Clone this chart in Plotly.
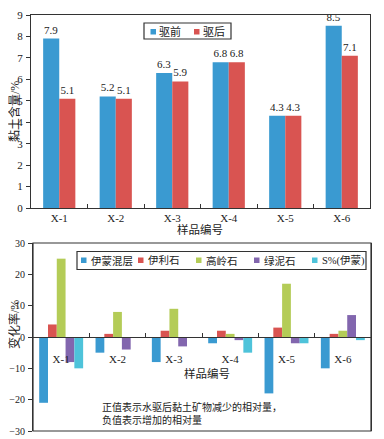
import plotly.graph_objects as go

# ---------------- data ----------------
samples = ["X-1", "X-2", "X-3", "X-4", "X-5", "X-6"]
before_name = "驱前"
after_name = "驱后"
clay_before = [7.9, 5.2, 6.3, 6.8, 4.3, 8.5]
clay_after = [5.1, 5.1, 5.9, 6.8, 4.3, 7.1]

mineral_names = ["伊蒙混层", "伊利石", "高岭石", "绿泥石", "S%(伊蒙)"]
illite_smectite = [-21, -5, -8, -2, -18, -10]
illite = [4, 1, 2, 2, 3, 1]
kaolinite = [25, 8, 9, 1, 17, 2]
chlorite = [-8, -4, -3, -1, -2, 7]
s_percent = [-10, 0, 0, -5, -2, -1]

top_ytitle = "黏土含量/%"
bottom_ytitle = "变化率/%"
xtitle = "样品编号"
note_lines = ["正值表示水驱后黏土矿物减少的相对量，", "负值表示增加的相对量"]

# ---------------- style ----------------
# the page body has an 8px default margin: the figure is sized/shifted to fill the window
OFF = 8
W, H = 384 - OFF, 439 - OFF
FONT = "Liberation Serif, Times New Roman, Noto Sans CJK SC, serif"
AX = "#333333"
TXT = "#222222"
BLUE = "#3a9ad1"
RED = "#d95451"
GREEN = "#b4cc57"
PURPLE = "#8266ae"
CYAN = "#4ec3da"
mineral_colors = [BLUE, RED, GREEN, PURPLE, CYAN]


def px(x):
    return (x - OFF) / W


def py(y):
    return 1 - (y - OFF) / H


fig = go.Figure()

# top chart bars
top_group = 0.57
for i, (name, vals, col) in enumerate([(before_name, clay_before, BLUE),
                                        (after_name, clay_after, RED)]):
    fig.add_trace(go.Bar(
        x=samples, y=vals, name=name, marker=dict(color=col, line=dict(width=0)),
        width=top_group / 2, offset=-top_group / 2 + i * top_group / 2,
        text=[f"{v:.1f}" for v in vals], textposition="outside",
        textfont=dict(family=FONT, size=11, color=TXT), cliponaxis=False,
        xaxis="x", yaxis="y", showlegend=False, hoverinfo="skip"))

# bottom chart bars
bot_group = 0.78
n_min = len(mineral_names)
for i, (name, vals, col) in enumerate(zip(mineral_names,
                                          [illite_smectite, illite, kaolinite, chlorite, s_percent],
                                          mineral_colors)):
    fig.add_trace(go.Bar(
        x=samples, y=vals, name=name, marker=dict(color=col, line=dict(width=0)),
        width=bot_group / n_min, offset=-bot_group / 2 + i * bot_group / n_min,
        xaxis="x2", yaxis="y2", showlegend=False, hoverinfo="skip"))

top_dom_x = [px(31), px(370)]
top_dom_y = [py(208), py(15)]
bot_dom_x = [px(33), px(371)]
bot_dom_y = [py(431), py(243)]

tickfont = dict(family=FONT, size=11, color=TXT)

fig.update_layout(
    template="none",
    width=W, height=H, margin=dict(l=0, r=0, t=0, b=0, autoexpand=False),
    paper_bgcolor="white", plot_bgcolor="white",
    font=dict(family=FONT, color=TXT),
    barmode="group",
    xaxis=dict(domain=top_dom_x, anchor="y", showline=True, mirror=True, linecolor=AX,
               linewidth=1.2, ticks="inside", ticklen=4, tickcolor=AX, tickson="boundaries",
               tickfont=tickfont, showgrid=False, zeroline=False, automargin=False),
    yaxis=dict(domain=top_dom_y, anchor="x", range=[0, 9], dtick=1, showline=True, mirror=True,
               linecolor=AX, linewidth=1.2, ticks="outside", ticklen=4, tickcolor=AX,
               tickfont=tickfont, showgrid=False, zeroline=False, ticklabelstandoff=1,
               automargin=False),
    xaxis2=dict(domain=bot_dom_x, anchor="free",
                position=(bot_dom_y[0] + bot_dom_y[1]) / 2,
                showline=True, linecolor=AX, linewidth=1.2, ticks="inside", ticklen=4,
                tickcolor=AX, tickson="boundaries", tickfont=tickfont, showgrid=False,
                zeroline=False, ticklabelstandoff=12, automargin=False),
    yaxis2=dict(domain=bot_dom_y, anchor="x2", range=[-30, 30], dtick=10, showline=True,
                mirror=True, linecolor=AX, linewidth=1.2, ticks="outside", ticklen=4,
                tickcolor=AX, tickfont=dict(family=FONT, size=10, color=TXT), showgrid=False,
                zeroline=False, ticklabelstandoff=1, automargin=False),
)

shapes = []
annots = []

# bottom frame
shapes.append(dict(type="rect", xref="x2 domain", yref="y2 domain", x0=0, x1=1, y0=0, y1=1,
                   line=dict(color=AX, width=1.2), layer="above"))

# top legend
shapes.append(dict(type="rect", xref="paper", yref="paper", x0=px(144), x1=px(231),
                   y0=py(39), y1=py(23), line=dict(color=AX, width=1.2), fillcolor="white"))
for (sx, tx, name, col) in [(150.5, 157, before_name, BLUE), (194, 200.5, after_name, RED)]:
    shapes.append(dict(type="rect", xref="paper", yref="paper", x0=px(sx), x1=px(sx + 5.5),
                       y0=py(34.5), y1=py(29), line=dict(width=0), fillcolor=col))
    annots.append(dict(xref="paper", yref="paper", x=px(tx), y=py(31.5), text=name,
                       showarrow=False, xanchor="left", yanchor="middle",
                       font=dict(family=FONT, size=11, color=TXT)))

# bottom legend
shapes.append(dict(type="rect", xref="paper", yref="paper", x0=px(77), x1=px(366),
                   y0=py(269.5), y1=py(251.5), line=dict(color=AX, width=1.2), fillcolor="white"))
leg_sq = [81, 138, 196, 254, 312]
for sx, name, col in zip(leg_sq, mineral_names, mineral_colors):
    shapes.append(dict(type="rect", xref="paper", yref="paper", x0=px(sx), x1=px(sx + 5.5),
                       y0=py(263), y1=py(257.5), line=dict(width=0), fillcolor=col))
    annots.append(dict(xref="paper", yref="paper", x=px(sx + 7.5), y=py(260.5), text=name,
                       showarrow=False, xanchor="left", yanchor="middle",
                       font=dict(family=FONT, size=10.5, color=TXT)))

# axis titles
annots.append(dict(xref="paper", yref="paper", x=px(14), y=py(112), text=top_ytitle,
                   textangle=-90, showarrow=False, xanchor="center", yanchor="middle",
                   font=dict(family=FONT, size=12, color=TXT)))
annots.append(dict(xref="paper", yref="paper", x=px(200), y=py(230), text=xtitle,
                   showarrow=False, xanchor="center", yanchor="middle",
                   font=dict(family=FONT, size=11.5, color=TXT)))
annots.append(dict(xref="paper", yref="paper", x=px(14), y=py(325), text=bottom_ytitle,
                   textangle=-90, showarrow=False, xanchor="center", yanchor="middle",
                   font=dict(family=FONT, size=12, color=TXT)))
annots.append(dict(xref="paper", yref="paper", x=px(207), y=py(373), text=xtitle,
                   showarrow=False, xanchor="center", yanchor="middle",
                   font=dict(family=FONT, size=11.5, color=TXT)))

# note
for i, line in enumerate(note_lines):
    annots.append(dict(xref="paper", yref="paper", x=px(100), y=py(407 + 12.5 * i), text=line,
                       showarrow=False, xanchor="left", yanchor="middle",
                       font=dict(family=FONT, size=10, color=TXT)))

fig.update_layout(shapes=shapes, annotations=annots)

fig.write_html("out.html")
